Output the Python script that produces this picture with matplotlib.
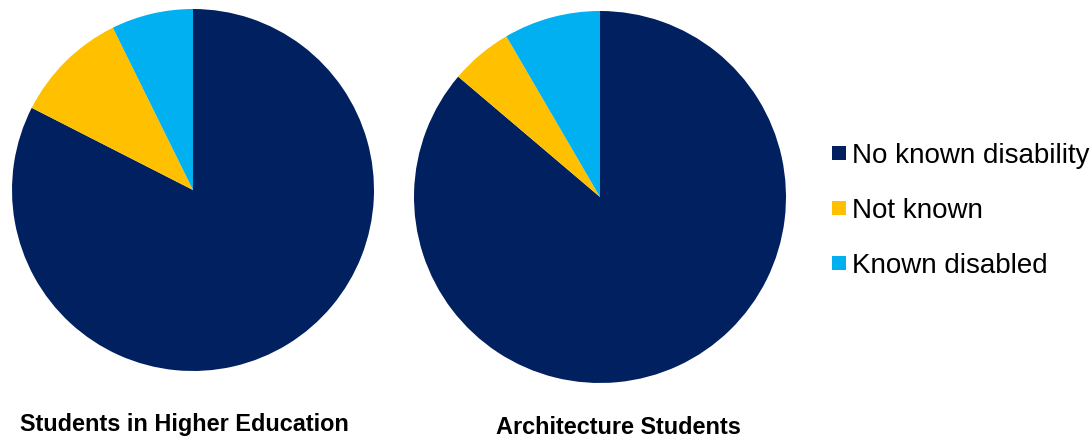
import matplotlib.pyplot as plt
from matplotlib.lines import Line2D

plt.rcParams['font.family'] = ['Liberation Sans', 'DejaVu Sans']

categories = ['No known disability', 'Not known', 'Known disabled']
colors = ['#002060', '#FFC000', '#00B0F0']

# percentages
he_students = [82.5, 10.2, 7.3]
arch_students = [86.2, 5.4, 8.4]
titles = ['Students in Higher Education', 'Architecture Students']

W, H = 1092, 442
fig = plt.figure(figsize=(W / 100, H / 100), dpi=100)

# pie boxes in pixels: left, top, size
boxes = [(12, 9, 362), (414, 11, 372)]
for (x0, y0, s), vals in zip(boxes, [he_students, arch_students]):
    ax = fig.add_axes([x0 / W, 1 - (y0 + s) / H, s / W, s / H])
    ax.pie(vals, colors=colors, startangle=90, counterclock=False,
           radius=1, wedgeprops=dict(linewidth=0))
    ax.set_xlim(-1, 1)
    ax.set_ylim(-1, 1)
    ax.set_aspect('equal')
    ax.axis('off')

fig.text(20 / W, 1 - 425 / H, titles[0], fontsize=16.9, fontweight='bold',
         va='center', ha='left')
fig.text(496 / W, 1 - 428 / H, titles[1], fontsize=16.9, fontweight='bold',
         va='center', ha='left')

# legend
handles = [Line2D([], [], marker='s', linestyle='none', markersize=9.5,
                  markerfacecolor=c, markeredgewidth=0) for c in colors]
fig.legend(handles, categories, loc='center left',
           bbox_to_anchor=(820 / W, 1 - 211 / H), frameon=False,
           fontsize=20, handlelength=0.55, handletextpad=0.2,
           labelspacing=1.05, borderaxespad=0)

fig.savefig('out.png', dpi=100)
